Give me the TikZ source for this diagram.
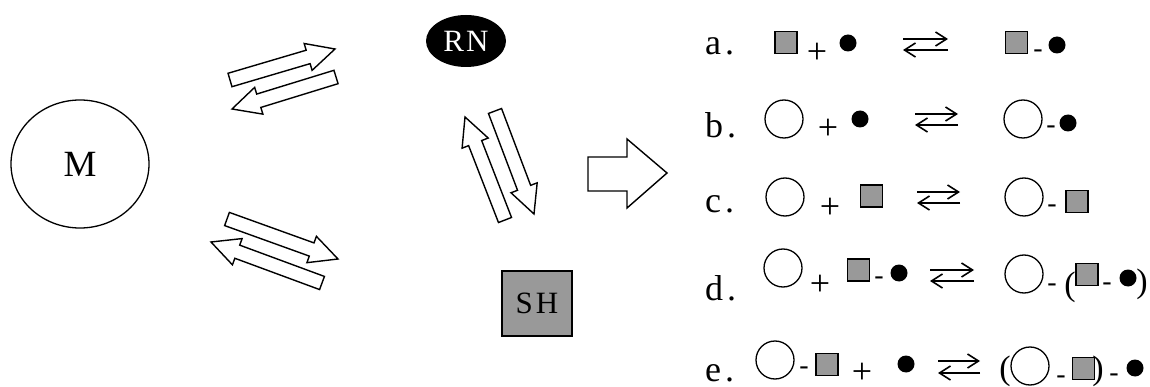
\documentclass[tikz,border=0pt]{standalone}
\usepackage{fontspec}
\setmainfont{Liberation Serif}
\usetikzlibrary{arrows.meta,shapes.geometric}
\tikzset{
  blk/.style={draw=black, line width=1.4pt, fill=white, line join=miter},
  sq/.style={draw=black, line width=1.3pt, fill=black!40, minimum size=22pt, inner sep=0pt},
  ring/.style={draw=black, line width=1.3pt, circle, minimum size=38pt, inner sep=0pt},
  blob/.style={fill=black, circle, minimum size=17pt, inner sep=0pt},
  lbl/.style={anchor=base west, inner sep=0pt, font=\fontsize{36}{40}\selectfont},
  pl/.style={inner sep=0pt, font=\fontsize{36}{40}\selectfont},
  hy/.style={anchor=base, inner sep=0pt, font=\fontsize{28}{30}\selectfont},
  par/.style={inner sep=0pt, font=\fontsize{34}{36}\selectfont},
  eqa/.style={line width=1.6pt, -{Straight Barb[length=11pt,width=14pt]}}
}
% hollow block arrow: tail centre (#1,#2) to tip (#3,#4)
\newcommand\blockarr[4]{%
  \pgfmathsetmacro\baang{atan2(#2-#4,#3-#1)}%
  \pgfmathsetmacro\balen{veclen(#3-#1,#4-#2)}%
  \begin{scope}[shift={(#1,#2)},rotate=\baang]
    \draw[blk] (0,-7) -- (\balen-28,-7) -- (\balen-28,-14) -- (\balen,0)
      -- (\balen-28,14) -- (\balen-28,7) -- (0,7) -- cycle;
  \end{scope}}
% equilibrium arrows
\newcommand\eqarr[5]{%
  \coordinate (#1l) at (#2,#4); \coordinate (#1r) at (#3,#4);
  \coordinate (#1L) at (#2,#5); \coordinate (#1R) at (#3,#5);
  \draw[eqa] (#1l) -- (#1r);
  \draw[eqa] (#1R) -- (#1L);}
\begin{document}
\begin{tikzpicture}[x=1pt,y=-1pt]
\useasboundingbox (0,0) rectangle (1150,387);

% left part
\node[draw=black, line width=1.3pt, ellipse, minimum width=138pt, minimum height=128pt, inner sep=0pt,
      font=\fontsize{37}{40}\selectfont] (M) at (80,164) {M};
\node[fill=black, ellipse, minimum width=80pt, minimum height=52pt, inner sep=0pt, text=white,
      font=\fontsize{31}{33}\selectfont] (RN) at (466,41) {R\kern2pt N};
\node[draw=black, line width=1.3pt, fill=black!40, minimum width=70pt, minimum height=65pt, inner sep=0pt,
      font=\fontsize{31}{33}\selectfont] (SH) at (537,303.5) {S\kern3pt H};

\blockarr{230}{80}{335}{49}
\blockarr{336}{77}{232}{109}
\blockarr{227}{219}{338}{259}
\blockarr{322}{283}{211}{242}
\blockarr{505}{220}{465}{117}
\blockarr{495}{111}{534}{214}

% big arrow
\draw[blk] (588,157) -- (627,157) -- (627,139) -- (667,173) -- (627,208) -- (627,191) -- (588,191) -- cycle;

% row a
\node[lbl] (la) at (705,55) {a\kern4pt.};
\node[sq] (a1) at (786,42.5) {};
\node[pl] (a2) at (817,53) {+};
\node[blob] (a3) at (848,43) {};
\eqarr{ea}{903}{948}{39}{50}
\node[sq] (a4) at (1016.5,42.5) {};
\node[hy] (a5) at (1038,58) {-};
\node[blob] (a6) at (1057,45) {};

% row b
\node[lbl] (lb) at (705,138) {b\kern4pt.};
\node[ring] (b1) at (784,119) {};
\node[pl] (b2) at (828,129) {+};
\node[blob] (b3) at (860,119) {};
\eqarr{eb}{915}{958}{114}{125}
\node[ring] (b4) at (1023,119) {};
\node[hy] (b5) at (1051,134) {-};
\node[blob] (b6) at (1068,123) {};

% row c
\node[lbl] (lc) at (705,213) {c\kern4pt.};
\node[ring] (c1) at (785,197) {};
\node[pl] (c2) at (830,208) {+};
\node[sq] (c3) at (871.5,196) {};
\eqarr{ec}{917}{960}{192}{203}
\node[ring] (c4) at (1024,197) {};
\node[hy] (c5) at (1052,213) {-};
\node[sq] (c6) at (1077,201.5) {};

% row d
\node[lbl] (ld) at (705,300) {d\kern4pt.};
\node[ring] (d1) at (783,268) {};
\node[pl] (d2) at (820,285) {+};
\node[sq] (d3) at (858.5,270) {};
\node[hy] (d4) at (879,284) {-};
\node[blob] (d5) at (899,273) {};
\eqarr{ed}{930}{974}{270}{281}
\node[ring] (d6) at (1024,274) {};
\node[hy] (d7) at (1052,291) {-};
\node[par] (d8) at (1070,287) {(};
\node[sq] (d9) at (1087,274.5) {};
\node[hy] (d10) at (1107,290) {-};
\node[blob] (d11) at (1128,278) {};
\node[par] (d12) at (1142,284) {)};

% row e
\node[lbl] (le) at (705,381) {e\kern4pt.};
\node[ring] (e1) at (775,360) {};
\node[hy] (e2) at (804,374) {-};
\node[sq] (e3) at (827,364.5) {};
\node[pl] (e4) at (862,373) {+};
\node[blob] (e5) at (906,364) {};
\eqarr{ee}{938}{980}{361}{373}
\node[par] (e6) at (1005,371) {(};
\node[ring] (e7) at (1030,366) {};
\node[hy] (e8) at (1061,383) {-};
\node[sq] (e9) at (1083.5,368.5) {};
\node[par] (e10) at (1098,371) {)};
\node[hy] (e11) at (1114,381) {-};
\node[blob] (e12) at (1135,368) {};
\end{tikzpicture}
\end{document}
